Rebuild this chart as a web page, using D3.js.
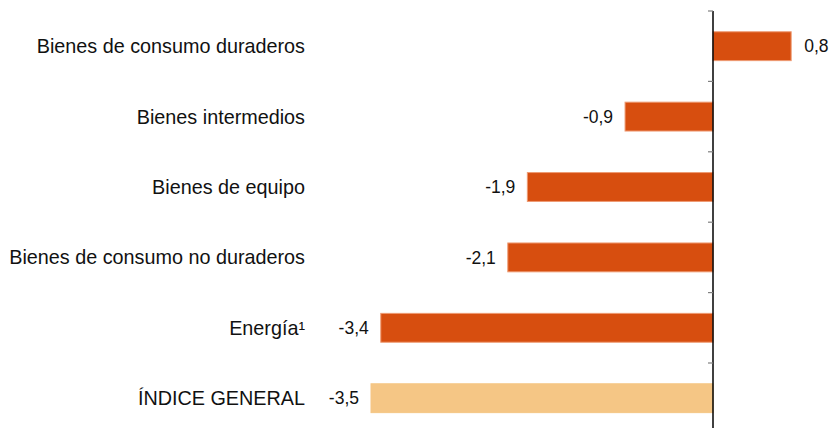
<!DOCTYPE html>
<html><head><meta charset="utf-8">
<script src="https://cdn.jsdelivr.net/npm/d3@7"></script>
<style>body{margin:0;background:#fff}svg{display:block}</style>
</head><body>
<script>
const categories = ["Bienes de consumo duraderos","Bienes intermedios","Bienes de equipo","Bienes de consumo no duraderos","Energía¹","ÍNDICE GENERAL"];
const values = [0.8,-0.9,-1.9,-2.1,-3.4,-3.5];
const labels = ["0,8","-0,9","-1,9","-2,1","-3,4","-3,5"];
const highlight = [false,false,false,false,false,true];

const W=832,H=428;
const svg=d3.select("body").append("svg").attr("width",W).attr("height",H);
const x=d3.scaleLinear().domain([-3.5,0]).range([371,713]);
const y=d3.scaleBand().domain(categories).range([11,433.4]).paddingInner(0.59).paddingOuter(0.295);

// bars
svg.selectAll("rect.bar").data(values).enter().append("rect")
  .attr("x",d=>x(Math.min(0,d))).attr("width",d=>Math.abs(x(d)-x(0)))
  .attr("y",(d,i)=>y(categories[i])).attr("height",y.bandwidth())
  .attr("fill",(d,i)=>highlight[i]?"#F5C685":"#D74E0F")
  .attr("stroke",(d,i)=>highlight[i]?"#F5C685":"#EE9A72").attr("stroke-width",1);

// axis line
svg.append("line").attr("x1",x(0)).attr("x2",x(0)).attr("y1",11).attr("y2",H).attr("stroke","#000").attr("stroke-width",1.5);
// ticks
svg.selectAll("line.tick").data(categories).enter().append("line")
  .attr("x1",x(0)-5).attr("x2",x(0)).attr("y1",d=>y(d)-y.step()*y.paddingOuter()).attr("y2",d=>y(d)-y.step()*y.paddingOuter())
  .attr("stroke","#808080").attr("stroke-width",1.2);

// category labels
svg.selectAll("text.cat").data(categories).enter().append("text")
  .attr("x",305).attr("y",d=>y(d)+y.bandwidth()/2).attr("dy","0.35em")
  .attr("text-anchor","end").attr("font-family","Liberation Sans, Arial, sans-serif").attr("font-size",19.8).attr("fill","#111")
  .text(d=>d);

// value labels
svg.selectAll("text.val").data(values).enter().append("text")
  .attr("x",d=>d<0?x(d)-12:x(d)+13).attr("y",(d,i)=>y(categories[i])+y.bandwidth()/2).attr("dy","0.35em")
  .attr("text-anchor",d=>d<0?"end":"start").attr("font-family","Liberation Sans, Arial, sans-serif").attr("font-size",17.5).attr("fill","#111")
  .text((d,i)=>labels[i]);
</script>
</body></html>
